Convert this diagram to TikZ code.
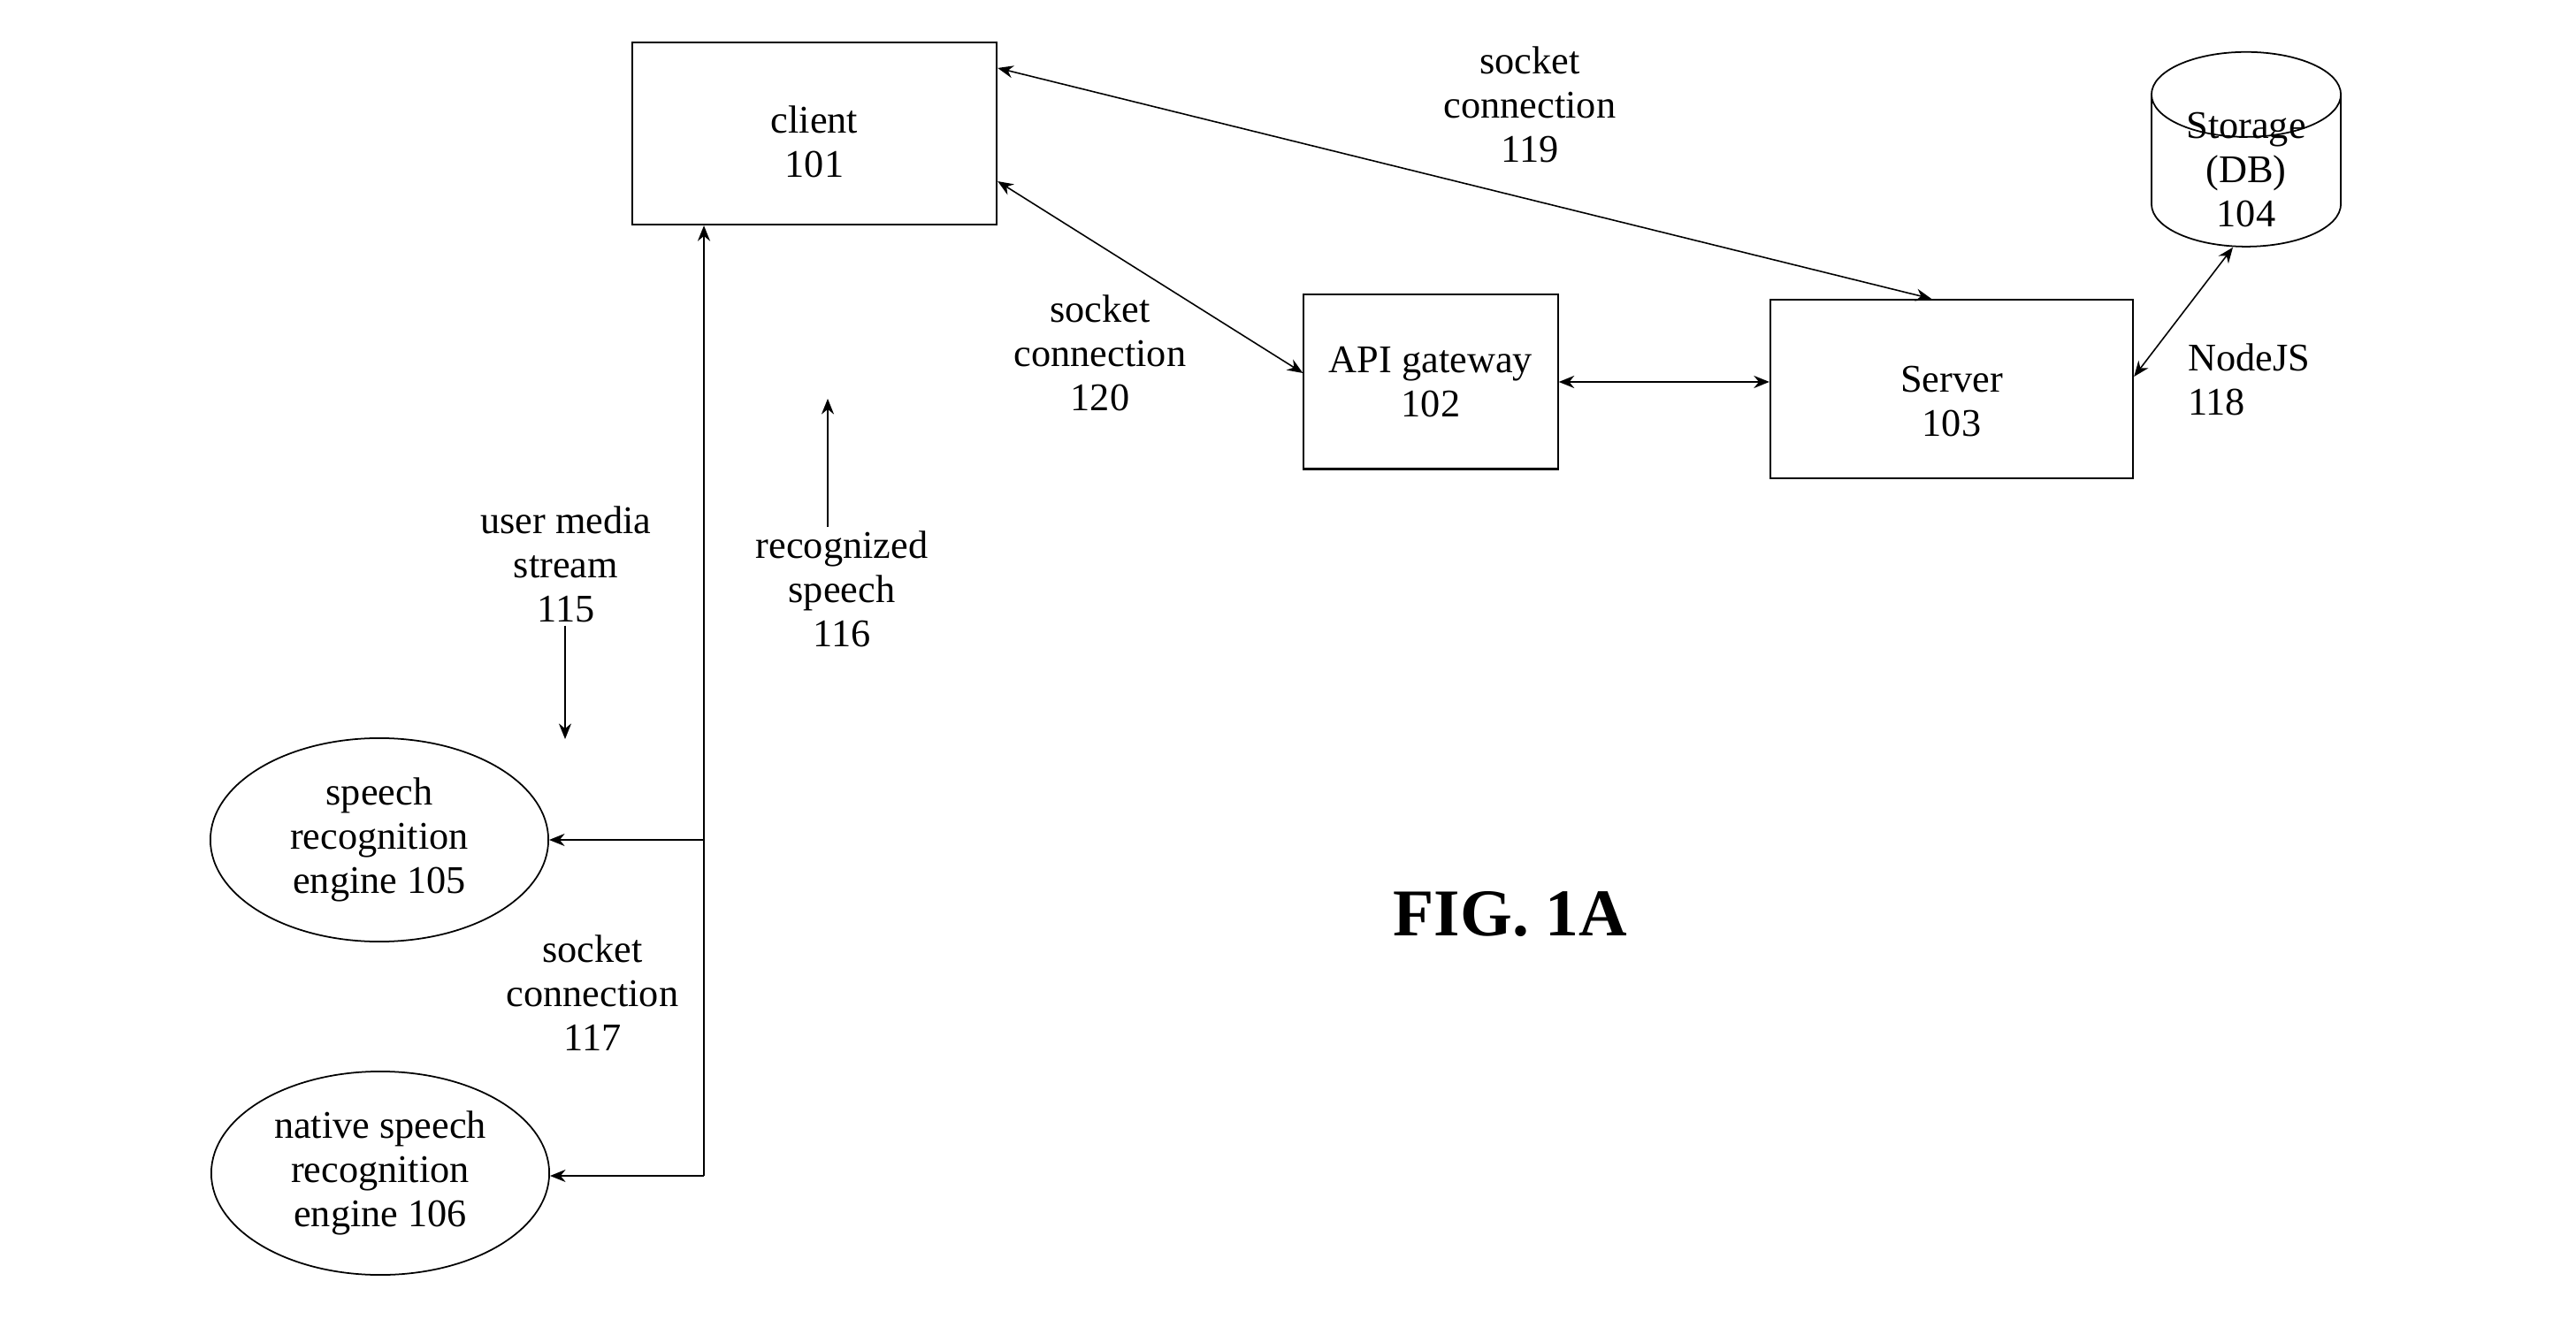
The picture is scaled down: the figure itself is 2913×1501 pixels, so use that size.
\documentclass[tikz,border=0pt]{standalone}
\usepackage{fontspec}
\setmainfont{Liberation Serif}
\usetikzlibrary{shapes.geometric, arrows.meta}

\tikzset{
  box/.style = {draw, line width=0.6pt, align=center},
  engine/.style = {draw, ellipse, line width=0.5pt, align=center,
    minimum width=3.82cm, minimum height=2.3cm},
  lbl/.style = {align=center, inner sep=1pt},
  link/.style = {line width=0.45pt,
    {Stealth[length=5pt,width=4pt]}-{Stealth[length=5pt,width=4pt]}},
  oneway/.style = {line width=0.45pt, -{Stealth[length=5pt,width=4pt]}}
}

\begin{document}
\begin{tikzpicture}[x=0.01cm, y=-0.01cm, font=\fontsize{12.6}{14.2}\selectfont, inner sep=0pt]
\useasboundingbox (0,0) rectangle (2913,1501);

% boxes
\node[box, minimum width=4.12cm, minimum height=2.06cm,
  label={[lbl, yshift=-0.09cm]center:{client\\101}}] (client) at (921,151) {};
\node[box, minimum width=2.87cm, minimum height=1.97cm] (api) at (1618,432) {API gateway\\102};
\node[box, minimum width=4.1cm, minimum height=2.02cm,
  label={[lbl, yshift=-0.14cm]center:{Server\\103}}] (server) at (2207,440) {};
\node[cylinder, shape border rotate=90, draw, line width=0.5pt, aspect=1.6, inner sep=0.3cm,
  minimum width=2.14cm, minimum height=2.2cm,
  label={[lbl, yshift=0.18cm]center:{Storage\\(DB)\\104}}] (db) at (2540,210) {};
\node[engine] (sre) at (429,950) {speech\\recognition\\engine 105};
\node[engine] (nsre) at (430,1327) {native speech\\recognition\\engine 106};

% labels
\node[lbl] (lbl115) at (640,638) {user media\\stream\\115};
\node[lbl] (lbl116) at (952,666) {recognized\\speech\\116};
\node[lbl] (lbl117) at (670,1123) {socket\\connection\\117};
\node[lbl, align=left, anchor=west] (lbl118) at (2470,429) {NodeJS\\118};
\node[lbl] (lbl119) at (1730,118) {socket\\connection\\119};
\node[lbl] (lbl120) at (1244,399) {socket\\connection\\120};
\node[font=\fontsize{21.5}{24}\selectfont\bfseries] (fig) at (1708,1034) {FIG. 1A};

% connections
\draw[link] ([yshift=0.74cm]client.east) -- ([xshift=-0.23cm]server.north);
\draw[link] ([yshift=-0.54cm]client.east) -- ([yshift=0.1cm]api.west);
\draw[link] (api.east) -- (api.east -| server.west);
\draw[link] ([yshift=0.14cm]server.east) -- ([xshift=-0.15cm]db.south);

\coordinate (bus1) at (796,950);
\coordinate (bus2) at (796,1330);
\draw[oneway] (bus2) -- (client.south -| bus2);
\draw[oneway] (bus1) -- (sre.east);
\draw[oneway] (bus2) -- (bus2 -| nsre.east);

\coordinate (to115) at (639,836);
\coordinate (to116) at (936,451);
\draw[oneway] (lbl115.south -| to115) -- (to115);
\draw[oneway] (lbl116.north -| to116) -- (to116);

\end{tikzpicture}
\end{document}
